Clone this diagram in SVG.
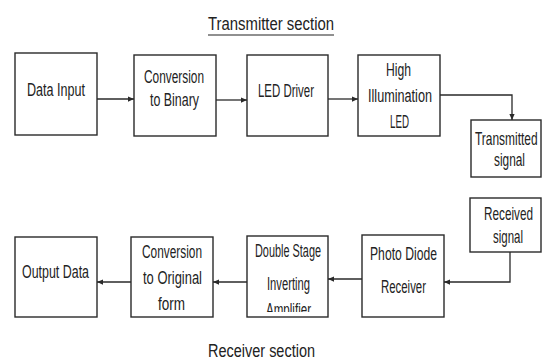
<svg xmlns="http://www.w3.org/2000/svg" width="542" height="360" viewBox="0 0 542 360">
<style>
.box{fill:#fff;stroke:#2a2a2a;stroke-width:1.4}
.t{font-family:"Liberation Sans",Arial,sans-serif;font-size:17.5px;fill:#222}
.c{fill:none;stroke:#2a2a2a;stroke-width:1.3}
</style>
<defs>
<marker id="ah" viewBox="0 0 8 8" refX="8" refY="4" markerWidth="6" markerHeight="6" orient="auto" markerUnits="userSpaceOnUse">
<path d="M0,0.5 L8,4 L0,7.5 z" fill="#2a2a2a"/>
</marker>
<clipPath id="clipAmp"><rect x="247" y="236" width="81" height="76"/></clipPath>
</defs>
<rect width="542" height="360" fill="#fff"/>
<g id="title-tx">
<text class="t" x="208" y="30" textLength="126" lengthAdjust="spacingAndGlyphs">Transmitter section</text>
<line x1="208" y1="35" x2="334" y2="35" stroke="#222" stroke-width="1.2"/>
</g>
<g id="title-rx">
<text class="t" x="208" y="357" textLength="107" lengthAdjust="spacingAndGlyphs">Receiver section</text>
</g>
<g id="connectors">
<line class="c" x1="97" y1="99" x2="134" y2="99" marker-end="url(#ah)"/>
<line class="c" x1="216" y1="100" x2="247" y2="100" marker-end="url(#ah)"/>
<line class="c" x1="328" y1="99" x2="358" y2="99" marker-end="url(#ah)"/>
<polyline class="c" points="440,95 512,95 512,120" marker-end="url(#ah)"/>
<polyline class="c" points="510,252 510,282 444,282" marker-end="url(#ah)"/>
<line class="c" x1="362" y1="279" x2="328" y2="279" marker-end="url(#ah)"/>
<line class="c" x1="247" y1="282" x2="213" y2="282" marker-end="url(#ah)"/>
<line class="c" x1="131" y1="282" x2="97" y2="282" marker-end="url(#ah)"/>
</g>
<g id="data-input">
<rect class="box" x="15" y="53" width="82" height="82"/>
<text class="t" x="27" y="96" textLength="58" lengthAdjust="spacingAndGlyphs">Data Input</text>
</g>
<g id="conv-binary">
<rect class="box" x="134" y="55" width="82" height="81"/>
<text class="t" x="144" y="83" textLength="60" lengthAdjust="spacingAndGlyphs">Conversion</text>
<text class="t" x="150" y="106" textLength="49" lengthAdjust="spacingAndGlyphs">to Binary</text>
</g>
<g id="led-driver">
<rect class="box" x="247" y="55" width="81" height="81"/>
<text class="t" x="258" y="97" textLength="56" lengthAdjust="spacingAndGlyphs">LED Driver</text>
</g>
<g id="high-led">
<rect class="box" x="358" y="55" width="82" height="81"/>
<text class="t" x="386" y="76" textLength="25" lengthAdjust="spacingAndGlyphs">High</text>
<text class="t" x="368" y="102" textLength="64" lengthAdjust="spacingAndGlyphs">Illumination</text>
<text class="t" x="390" y="128" textLength="19" lengthAdjust="spacingAndGlyphs">LED</text>
</g>
<g id="tx-signal">
<rect class="box" x="471" y="120" width="70" height="57"/>
<text class="t" transform="translate(475,145) scale(0.682,1)">Transmitted</text>
<text class="t" transform="translate(494,166) scale(0.678,1)">signal</text>
</g>
<g id="rx-signal">
<rect class="box" x="470" y="198" width="71" height="54"/>
<text class="t" transform="translate(484,220) scale(0.672,1)">Received</text>
<text class="t" transform="translate(493,243) scale(0.656,1)">signal</text>
</g>
<g id="photo-diode">
<rect class="box" x="362" y="235" width="82" height="82"/>
<text class="t" x="370" y="260" textLength="67" lengthAdjust="spacingAndGlyphs">Photo Diode</text>
<text class="t" x="381" y="293" textLength="45" lengthAdjust="spacingAndGlyphs">Receiver</text>
</g>
<g id="double-stage">
<rect class="box" x="247" y="236" width="81" height="81"/>
<text class="t" x="255" y="257" textLength="66" lengthAdjust="spacingAndGlyphs">Double Stage</text>
<text class="t" x="267" y="290" textLength="43" lengthAdjust="spacingAndGlyphs">Inverting</text>
<text class="t" x="266" y="316" textLength="45" lengthAdjust="spacingAndGlyphs" clip-path="url(#clipAmp)">Amplifier</text>
</g>
<g id="conv-original">
<rect class="box" x="131" y="237" width="82" height="80"/>
<text class="t" x="142" y="258" textLength="60" lengthAdjust="spacingAndGlyphs">Conversion</text>
<text class="t" x="143" y="284" textLength="59" lengthAdjust="spacingAndGlyphs">to Original</text>
<text class="t" x="158" y="310" textLength="27" lengthAdjust="spacingAndGlyphs">form</text>
</g>
<g id="output-data">
<rect class="box" x="15" y="237" width="82" height="80"/>
<text class="t" x="22" y="278" textLength="67" lengthAdjust="spacingAndGlyphs">Output Data</text>
</g>
</svg>
